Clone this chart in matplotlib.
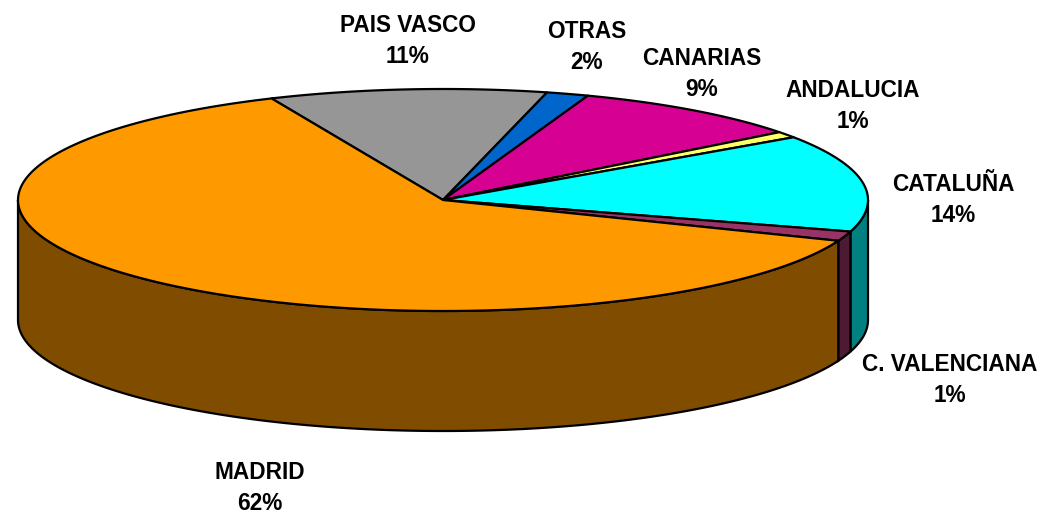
import matplotlib; matplotlib.use("Agg"); import matplotlib.pyplot as plt
from matplotlib.patches import Polygon
import numpy as np

# clockwise from the Madrid/Pais Vasco cut
names=['PAIS VASCO','OTRAS','CANARIAS','ANDALUCIA','CATALUÑA','C. VALENCIANA','MADRID']
values=[10.55,1.6,9.0,0.9,14.15,1.4,62.4]
top_cols=['#969696','#0066CC','#D60093','#FFFF66','#00FFFF','#993366','#FF9900']
side_cols=['#4B4B4B','#003366','#6B0049','#808033','#008080','#4D1A33','#7F4C00']
label_xy=[(408,41),(587,47),(702,74),(853,106),(953,200),(950,380),(260,488)]

CX,CY,RX,RY,DEPTH=443,200,425,111,120
START=-23.8

def rim(a):
    a=np.radians(a)
    return CX+RX*np.sin(a),CY-RY*np.cos(a)

fig=plt.figure(figsize=(10.42,5.13),dpi=100); fig.patch.set_facecolor('white')
ax=fig.add_axes([0,0,1,1]); ax.set_xlim(0,1042); ax.set_ylim(513,0); ax.axis('off')

edges=START+np.cumsum([0]+values)*3.6
for i in range(len(values)):
    a0,a1=edges[i],edges[i+1]
    # wall only shows on the front half, 90..270 clockwise from the top
    s0,s1=max(a0,90),min(a1,270)
    if s1>s0:
        t=np.linspace(s0,s1,200); x,y=rim(t)
        pts=np.r_[np.c_[x,y],np.c_[x[::-1],y[::-1]+DEPTH]]
        ax.add_patch(Polygon(pts,closed=True,fc=side_cols[i],ec='k',lw=1.6,zorder=2))
for i in range(len(values)):
    t=np.linspace(edges[i],edges[i+1],200); x,y=rim(t)
    pts=np.r_[[[CX,CY]],np.c_[x,y]]
    ax.add_patch(Polygon(pts,closed=True,fc=top_cols[i],ec='k',lw=1.6,joinstyle='round',zorder=3))

for n,v,(x,y) in zip(names,values,label_xy):
    ax.text(x,y,f"{n}\n{v:.0f}%",ha='center',va='center',fontsize=16.3,fontweight='bold',
            family='Liberation Sans',color='k',linespacing=1.4)

fig.savefig("out.png",dpi=100,facecolor='white')
